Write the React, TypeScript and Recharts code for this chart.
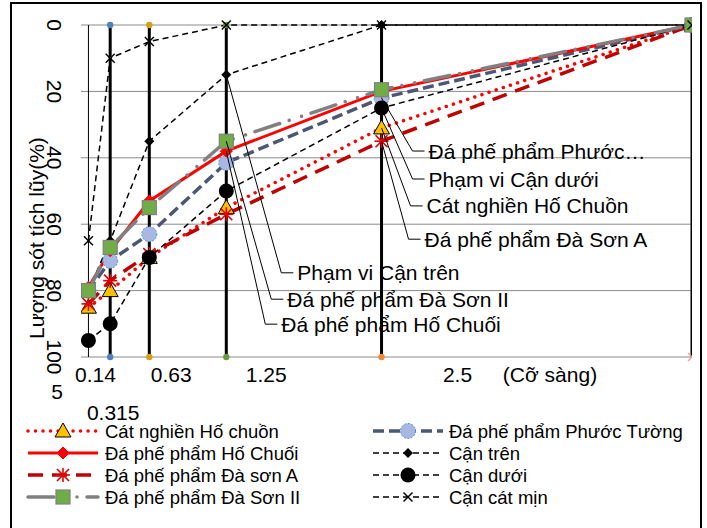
import React from 'react';
import { ComposedChart, Line, XAxis, YAxis, CartesianGrid, ReferenceLine, LabelList, Legend } from 'recharts';

// ---- data ----
const sieves = [0.14, 0.315, 0.63, 1.25, 2.5, 5];
const sieveLabels = ['0.14', '0.315', '0.63', '1.25', '2.5', '5'];
const yTicks = [0, 20, 40, 60, 80, 100];

const catNghien = [85, 80, 70, 55, 31, 0];
const phuocTuong = [80, 71, 63, 41.5, 22, 0];
const hoChuoi = [79, 68, 53, 38, 20, 0];
const canTren = [80, 65, 35, 15, 0, 0];
const daSonA = [84, 77, 69, 57, 35, 0];
const canDuoi = [95, 90, 70, 50, 25, 0];
const daSonII = [80, 67, 55, 35, 19.5, 0];
const canCatMin = [65, 10, 5, 0, 0, 0];

const sieveLineX = [0.315, 0.63, 1.25, 2.5, 5];
const rangeEnds = [0, 100];

const yTitle = 'Lượng sót tích lũy(%)';
const xTitle = '(Cỡ sàng)';

const FONT = '"Liberation Sans", Arial, sans-serif';

// ---- markers ----
type MK = (cx: number, cy: number, k?: any) => React.ReactElement;
const mTriangle: MK = (cx, cy, k) => (
  <polygon key={k} points={`${cx},${cy - 8} ${cx + 8},${cy + 6} ${cx - 8},${cy + 6}`} fill="#ffc000" stroke="#000" strokeWidth={1} />
);
const mRedDiamond: MK = (cx, cy, k) => (
  <polygon key={k} points={`${cx},${cy - 6} ${cx + 6},${cy} ${cx},${cy + 6} ${cx - 6},${cy}`} fill="#ff0000" stroke="#ff0000" />
);
const mStar: MK = (cx, cy, k) => (
  <g key={k} stroke="#e00000" strokeWidth={1.6}>
    <line x1={cx - 6} y1={cy - 6} x2={cx + 6} y2={cy + 6} />
    <line x1={cx - 6} y1={cy + 6} x2={cx + 6} y2={cy - 6} />
    <line x1={cx} y1={cy - 7} x2={cx} y2={cy + 7} />
    <line x1={cx - 7} y1={cy} x2={cx + 7} y2={cy} />
  </g>
);
const mSquare: MK = (cx, cy, k) => (
  <rect key={k} x={cx - 7} y={cy - 7} width={14} height={14} fill="#70ad47" stroke="#808080" strokeWidth={1.2} />
);
const mBlueCircle: MK = (cx, cy, k) => (
  <circle key={k} cx={cx} cy={cy} r={7.5} fill="#a9b8e2" stroke="#4a90d9" strokeWidth={1} strokeDasharray="2 1.5" />
);
const mBlackDiamond: MK = (cx, cy, k) => (
  <polygon key={k} points={`${cx},${cy - 5} ${cx + 5},${cy} ${cx},${cy + 5} ${cx - 5},${cy}`} fill="#000" />
);
const mBlackCircle: MK = (cx, cy, k) => <circle key={k} cx={cx} cy={cy} r={7.5} fill="#000" />;
const mCross: MK = (cx, cy, k) => (
  <g key={k} stroke="#000" strokeWidth={1.4}>
    <line x1={cx - 4.5} y1={cy - 4.5} x2={cx + 4.5} y2={cy + 4.5} />
    <line x1={cx - 4.5} y1={cy + 4.5} x2={cx + 4.5} y2={cy - 4.5} />
  </g>
);

// ---- series styles ----
const series = [
  { name: 'Cát nghiền Hố chuồn', values: catNghien, stroke: '#ff0000', width: 3.5, dash: '0.01 7.5', cap: 'round', marker: mTriangle,
    callout: { index: 4, dx: 29, dy: 78, text: 'Cát nghiền Hố Chuồn' } },
  { name: 'Đá phế phẩm Phước Tường', values: phuocTuong, stroke: '#4a5874', width: 3.5, dash: '11 5', cap: 'butt', marker: mBlueCircle,
    callout: { index: 4, dx: 31, dy: 53, text: 'Đá phế phẩm Phước…' } },
  { name: 'Đá phế phẩm Hố Chuối', values: hoChuoi, stroke: '#ff0000', width: 3, dash: undefined, cap: 'butt', marker: mRedDiamond,
    callout: { index: 3, dx: 39, dy: 173, text: 'Đá phế phẩm Hố Chuối' } },
  { name: 'Cận trên', values: canTren, stroke: '#000', width: 1.5, dash: '6 4', cap: 'butt', marker: mBlackDiamond,
    callout: { index: 3, dx: 55, dy: 198, text: 'Phạm vi Cận trên' } },
  { name: 'Đá phế phẩm Đà sơn A', values: daSonA, stroke: '#c00000', width: 3.5, dash: '15 9', cap: 'butt', marker: mStar,
    callout: { index: 4, dx: 27, dy: 98, text: 'Đá phế phẩm Đà Sơn A' } },
  { name: 'Cận dưới', values: canDuoi, stroke: '#000', width: 1.5, dash: '6 4', cap: 'butt', marker: mBlackCircle,
    callout: { index: 4, dx: 31, dy: 71, text: 'Phạm vi Cận dưới' } },
  { name: 'Đá phế phẩm Đà Sơn II', values: daSonII, stroke: '#808080', width: 3.5, dash: '26 10 0.01 13 0.01 10', cap: 'round', marker: mSquare,
    callout: { index: 3, dx: 45, dy: 158, text: 'Đá phế phẩm Đà Sơn II' } },
  { name: 'Cận cát mịn', values: canCatMin, stroke: '#000', width: 1.5, dash: '6 4', cap: 'butt', marker: mCross, callout: null },
];

const legendLeftOrder = [0, 2, 4, 6];
const legendRightOrder = [1, 3, 5, 7];

const sieveLineColors = ['#4f81bd', '#d4a017', '#6a9a3e', '#f0883a', '#f4a09a'];

const xTickOffsets = [
  { dx: 7, dy: 17 },
  { dx: 3, dy: 55.5 },
  { dx: 22, dy: 17 },
  { dx: 40, dy: 17 },
  { dx: 76, dy: 17 },
  { dx: -635, dy: 34.5 },
];

const toData = (vals: number[]) => sieves.map((x, i) => ({ x, y: vals[i] }));

const makeCallout = (cfg: any) => (props: any) => {
  if (!cfg || props.index !== cfg.index) return null;
  const x = props.x ?? props.viewBox?.x;
  const y = props.y ?? props.viewBox?.y;
  const ex = x + cfg.dx;
  const ey = y + cfg.dy;
  return (
    <g key={`co-${cfg.text}`}>
      <polyline points={`${x},${y} ${ex},${ey} ${ex + 12},${ey}`} fill="none" stroke="#000" strokeWidth={1} />
      <text x={ex + 16} y={ey} dominantBaseline="central" fontSize={21} fontFamily={FONT} fill="#000">
        {cfg.text}
      </text>
    </g>
  );
};

const YTick = (p: any) => {
  const cx = p.x - 27;
  return (
    <text x={cx} y={p.y} transform={`rotate(90 ${cx} ${p.y})`} textAnchor="middle" dominantBaseline="central"
      fontSize={21} fontFamily={FONT} fill="#000">
      {p.payload.value}
    </text>
  );
};

const XTick = (p: any) => {
  const i = sieves.indexOf(p.payload.value);
  const o = xTickOffsets[i] || { dx: 0, dy: 17 };
  return (
    <text x={p.x + o.dx} y={p.y + o.dy} textAnchor="middle" dominantBaseline="central" fontSize={21} fontFamily={FONT} fill="#000">
      {sieveLabels[i]}
    </text>
  );
};

const LegendSample = ({ s, x0, y }: any) => {
  const mid = x0 + 35;
  return (
    <g>
      <line x1={x0} x2={x0 + 70} y1={y} y2={y} stroke={s.stroke} strokeWidth={s.width}
        strokeDasharray={s.dash} strokeLinecap={s.cap} />
      {s.marker(mid, y)}
    </g>
  );
};

const renderLegend = () => (
  <svg width={707} height={100} style={{ display: 'block' }}>
    {legendLeftOrder.map((si, r) => (
      <g key={`l${si}`}>
        <LegendSample s={series[si]} x0={28} y={13 + r * 22} />
        <text x={105} y={13 + r * 22} dominantBaseline="central" fontSize={18.5} fontFamily={FONT} fill="#000">{series[si].name}</text>
      </g>
    ))}
    {legendRightOrder.map((si, r) => (
      <g key={`r${si}`}>
        <LegendSample s={series[si]} x0={373} y={13 + r * 22} />
        <text x={449} y={13 + r * 22} dominantBaseline="central" fontSize={18.5} fontFamily={FONT} fill="#000">{series[si].name}</text>
      </g>
    ))}
  </svg>
);

export default function App() {
  return (
    <div style={{ position: 'absolute', left: 0, top: 0, width: 707, height: 528, background: '#fff', overflow: 'hidden' }}>
      <ComposedChart width={707} height={528} margin={{ top: 25, right: 15, bottom: 141, left: 0 }}>
        <CartesianGrid vertical={false} stroke="#8a8a8a" strokeWidth={1} />
        <XAxis type="number" dataKey="x" domain={[0.08, 5]} ticks={sieves} allowDataOverflow
          axisLine={false} tickLine={false} tickSize={0} tickMargin={0} height={30} tick={<XTick />} interval={0}
          label={{
            content: (p: any) => (
              <text x={p.viewBox.x + 469} y={p.viewBox.y + 17} textAnchor="middle" dominantBaseline="central"
                fontSize={21} fontFamily={FONT} fill="#000">{xTitle}</text>
            ),
          }} />
        <YAxis type="number" reversed domain={[0, 100]} ticks={yTicks} width={81} axisLine={false} tickLine={false}
          tickSize={0} tickMargin={0} tick={<YTick />} interval={0}
          label={{
            content: (p: any) => {
              const tx = p.viewBox.x + 36;
              const ty = p.viewBox.y + 213;
              return (
                <text x={tx} y={ty} transform={`rotate(-90 ${tx} ${ty})`} textAnchor="middle" dominantBaseline="central"
                  fontSize={21} fontFamily={FONT} fill="#000">{yTitle}</text>
              );
            },
          }} />
        <ReferenceLine x={0.14} stroke="#000" strokeWidth={1} />
        {sieveLineX.map((sx, i) => (
          <Line key={`v${sx}`} data={rangeEnds.map((y) => ({ x: sx, y }))} dataKey="y" type="linear"
            stroke="#000" strokeWidth={3} isAnimationActive={false} activeDot={false} legendType="none"
            dot={(p: any) =>
              i === sieveLineX.length - 1 ? (
                <g key={`vd${sx}-${p.index}`} stroke={sieveLineColors[i]} strokeWidth={1.5}>
                  <line x1={p.cx - 4} y1={p.cy - 4} x2={p.cx + 4} y2={p.cy + 4} />
                  <line x1={p.cx - 4} y1={p.cy + 4} x2={p.cx + 4} y2={p.cy - 4} />
                </g>
              ) : (
                <circle key={`vd${sx}-${p.index}`} cx={p.cx} cy={p.cy} r={3.2} fill={sieveLineColors[i]} />
              )
            } />
        ))}
        {series.map((s) => (
          <Line key={s.name} name={s.name} data={toData(s.values)} dataKey="y" type="linear"
            stroke={s.stroke} strokeWidth={s.width} strokeDasharray={s.dash} strokeLinecap={s.cap as any}
            isAnimationActive={false} activeDot={false}
            dot={(p: any) => s.marker(p.cx, p.cy, `${s.name}-${p.index}`)}>
            {s.callout ? <LabelList dataKey="y" content={makeCallout(s.callout)} /> : null}
          </Line>
        ))}
        <Legend layout="horizontal" verticalAlign="middle" align="center" content={renderLegend}
          wrapperStyle={{ left: 0, top: 418, width: 707, height: 100 }} />
      </ComposedChart>
      <div style={{ position: 'absolute', left: 10, top: 2, width: 688, height: 540, border: '2px solid #000', pointerEvents: 'none' }} />
    </div>
  );
}
